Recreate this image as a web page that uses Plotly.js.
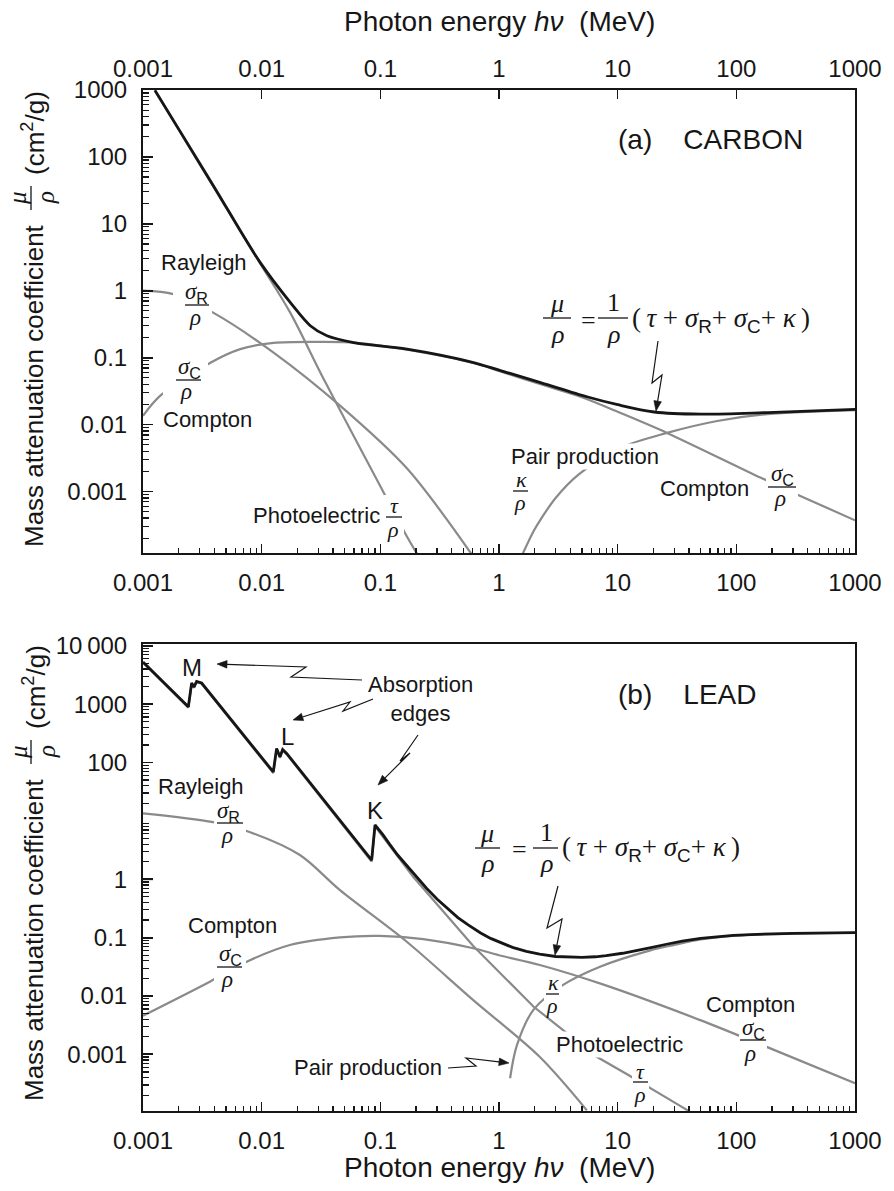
<!DOCTYPE html>
<html><head><meta charset="utf-8">
<script src="https://cdn.plot.ly/plotly-3.0.1.min.js"></script>
<style>html,body{margin:0;padding:0;background:#fff}#chart{width:894px;height:1191px}</style>
</head><body><div id="chart"></div>
<script>
// ---------------- DATA ----------------
// x ticks (photon energy, MeV)
const energyTicks = [0.001, 0.01, 0.1, 1, 10, 100, 1000];
const energyTickText = ['0.001', '0.01', '0.1', '1', '10', '100', '1000'];
// y ticks panel (a)
const carbonYTicks = [0.001, 0.01, 0.1, 1, 10, 100, 1000];
const carbonYTickText = ['0.001', '0.01', '0.1', '1', '10', '100', '1000'];
// y ticks panel (b)  (the reference prints no label at 10)
const leadYTicks = [0.001, 0.01, 0.1, 1, 100, 1000, 10000];
const leadYTickText = ['0.001', '0.01', '0.1', '1', '100', '1000', '10\u2009000'];

// Panel (a) CARBON
const carbonTotalE = [0.00126, 0.002, 0.004, 0.0097, 0.0174, 0.0257, 0.0355, 0.0596, 0.168, 0.61, 1.03, 2.24, 5.5, 10, 20.3, 50, 183, 1000];
const carbonTotalV = [990, 260, 35, 2.65, 0.67, 0.30, 0.212, 0.168, 0.134, 0.0845, 0.064, 0.0424, 0.026, 0.0198, 0.0154, 0.0143, 0.0151, 0.0169];
const carbonPhotoE = [0.00126, 0.0097, 0.0174, 0.0333, 0.1, 0.168, 0.215];
const carbonPhotoV = [980, 2.55, 0.47, 0.048, 0.0012, 0.00021, 0.0001];
const carbonRayleighE = [0.001, 0.0018, 0.0039, 0.0126, 0.046, 0.168, 0.61];
const carbonRayleighV = [1.0, 0.89, 0.47, 0.119, 0.019, 0.0022, 0.000105];
const carbonComptonE = [0.001, 0.0014, 0.0037, 0.0066, 0.0126, 0.0333, 0.0635, 0.168, 0.61, 1.03, 2.24, 5.2, 10, 26, 161, 350, 1000];
const carbonComptonV = [0.0135, 0.027, 0.084, 0.134, 0.166, 0.172, 0.166, 0.131, 0.083, 0.062, 0.040, 0.025, 0.0155, 0.0075, 0.0016, 0.00085, 0.00037];
const carbonPairE = [1.52, 1.97, 2.24, 3.0, 4.7, 10.6, 26, 69, 183, 1000];
const carbonPairV = [0.0001, 0.00026, 0.00038, 0.0008, 0.0018, 0.0045, 0.0075, 0.0113, 0.0143, 0.0164];

// Panel (b) LEAD
const leadTotalE = [0.001, 0.00241, 0.00257, 0.00269, 0.00283, 0.00312, 0.01253, 0.01336, 0.01426, 0.01503, 0.01625, 0.0845, 0.0902,
  0.105, 0.12, 0.14, 0.16, 0.2, 0.245, 0.3, 0.37, 0.45, 0.55, 0.7, 0.85, 1.0, 1.3, 1.7, 2.2, 3.0, 4.0, 5.0, 6.5, 8.0, 11, 15.4, 20, 25.8, 35, 50, 70, 94, 150, 300, 1000];
const leadTotalV = [5250, 898, 2300, 1970, 2450, 2300, 69, 174, 125, 167, 143, 2.13, 8.5,
  5.8, 3.95, 2.6, 1.9, 1.1, 0.70, 0.46, 0.31, 0.22, 0.165, 0.12, 0.097, 0.084, 0.068, 0.058, 0.052, 0.0475, 0.046, 0.046, 0.047, 0.049, 0.054, 0.061, 0.069, 0.077, 0.087, 0.097, 0.104, 0.109, 0.114, 0.118, 0.1216];
const leadPhotoE = [0.001, 0.00241, 0.00257, 0.00269, 0.00283, 0.00312, 0.01253, 0.01336, 0.01426, 0.01503, 0.01625, 0.0845, 0.0902, 0.12, 0.189, 0.607, 1.95, 3.47, 6.6, 11.9, 20, 31, 42];
const leadPhotoV = [5100, 870, 2230, 1910, 2380, 2230, 66, 168, 120, 161, 138, 2.0, 8.1, 3.7, 1.1, 0.072, 0.0066, 0.0026, 0.00092, 0.00046, 0.00025, 0.000145, 0.0001];
const leadRayleighE = [0.001, 0.0039, 0.008, 0.021, 0.0457, 0.167, 0.607, 2.21, 5.5];
const leadRayleighV = [13.5, 9.5, 6.4, 2.6, 0.65, 0.085, 0.0085, 0.0009, 0.00011];
const leadComptonE = [0.001, 0.00366, 0.00748, 0.0173, 0.0457, 0.099, 0.23, 0.607, 1.0, 2.21, 7.5, 49, 191, 1000];
const leadComptonV = [0.0046, 0.0176, 0.0387, 0.0748, 0.101, 0.107, 0.094, 0.0657, 0.050, 0.034, 0.0158, 0.0039, 0.00128, 0.00032];
const leadPairE = [1.24, 1.41, 1.95, 3.47, 7.1, 18.6, 30, 50, 100, 300, 1000];
const leadPairV = [0.00039, 0.0014, 0.0058, 0.0155, 0.0318, 0.060, 0.075, 0.093, 0.108, 0.117, 0.1213];

// ---------------- LAYOUT GEOMETRY ----------------
const W = 894, H = 1191;
const PX0 = 143, PX1 = 855, AY0 = 90, AY1 = 553, BY0 = 644, BY1 = 1111;
const INK = '#161616', GRAY = '#8a8a8a';
const SANS = '"Liberation Sans", Arial, sans-serif';
const SERIF = '"Liberation Serif", "Times New Roman", serif';
const P = x => x / W, Q = y => 1 - y / H;

function minorVals(lo, hi) {
  const out = [];
  for (let k = lo; k < hi; k++) for (let m = 2; m <= 9; m++) out.push(m * Math.pow(10, k));
  return out;
}

function curve(E, V, xa, ya, color, width, shape) {
  return {type: 'scatter', mode: 'lines', x: E, y: V, xaxis: xa, yaxis: ya,
    line: {color: color, width: width, shape: shape, smoothing: 0.9},
    hoverinfo: 'skip', showlegend: false};
}

const traces = [
  curve(carbonRayleighE, carbonRayleighV, 'x', 'y', GRAY, 2.2, 'spline'),
  curve(carbonComptonE, carbonComptonV, 'x', 'y', GRAY, 2.2, 'spline'),
  curve(carbonPhotoE, carbonPhotoV, 'x', 'y', GRAY, 2.2, 'spline'),
  curve(carbonPairE, carbonPairV, 'x', 'y', GRAY, 2.2, 'spline'),
  curve(carbonTotalE, carbonTotalV, 'x', 'y', INK, 2.8, 'spline'),
  {type: 'scatter', mode: 'lines', x: [], y: [], xaxis: 'x2', yaxis: 'y', showlegend: false, hoverinfo: 'skip'},
  curve(leadRayleighE, leadRayleighV, 'x3', 'y2', GRAY, 2.2, 'spline'),
  curve(leadComptonE, leadComptonV, 'x3', 'y2', GRAY, 2.2, 'spline'),
  curve(leadPhotoE, leadPhotoV, 'x3', 'y2', GRAY, 2.2, 'linear'),
  curve(leadPairE, leadPairV, 'x3', 'y2', GRAY, 2.2, 'spline'),
  curve(leadTotalE, leadTotalV, 'x3', 'y2', INK, 2.8, 'linear')
];

const tickFont = {family: SANS, size: 24, color: INK};
function xAxis(anchor, top) {
  const a = {domain: [P(PX0), P(PX1)], anchor: anchor, type: 'log', range: [-3, 3],
    showgrid: false, zeroline: false, showline: true, linecolor: INK, linewidth: 2,
    ticks: 'inside', ticklen: 9, tickwidth: 1.6, tickcolor: INK,
    tickmode: 'array', tickvals: energyTicks, ticktext: energyTickText,
    showticklabels: true, tickfont: tickFont, ticklabelstandoff: 7, fixedrange: true};
  if (top) { a.side = 'top'; a.overlaying = 'x'; a.showline = false; }
  else { a.mirror = true; a.minor = {ticks: 'inside', ticklen: 5, tickwidth: 1.3, tickcolor: INK, tickmode: 'array', tickvals: minorVals(-3, 3)}; }
  return a;
}
function yAxis(anchor, dom, range, tv, tt, lo, hi) {
  return {domain: dom, anchor: anchor, type: 'log', range: range,
    showgrid: false, zeroline: false, showline: true, mirror: true, linecolor: INK, linewidth: 2,
    ticks: 'inside', ticklen: 10, tickwidth: 1.8, tickcolor: INK,
    tickmode: 'array', tickvals: tv, ticktext: tt, tickfont: tickFont, ticklabelstandoff: 9,
    minor: {ticks: 'inside', ticklen: 6, tickwidth: 1.2, tickcolor: INK, tickmode: 'array', tickvals: minorVals(lo, hi)},
    fixedrange: true};
}

// ---------------- ANNOTATIONS & SHAPES ----------------
const ann = [], gaps = [], shp = [];
function txt(x, y, t, o) {
  const base = {xref: 'paper', yref: 'paper', x: P(x), y: Q(y), text: t, showarrow: false,
    xanchor: 'center', yanchor: 'middle', font: {family: SANS, size: 22, color: INK}, borderpad: 0};
  ann.push(Object.assign(base, o || {}));
}
function gtxt(x, y, t, size, o) { txt(x, y, t, Object.assign({font: {family: SERIF, size: size || 23, color: INK}}, o || {})); }
function gap(x0, y0, x1, y1) {
  gaps.push({type: 'rect', xref: 'paper', yref: 'paper', x0: P(x0), x1: P(x1), y0: Q(y1), y1: Q(y0),
    fillcolor: '#ffffff', line: {width: 0}, layer: 'above'});
}
function seg(x0, y0, x1, y1, w) {
  shp.push({type: 'line', xref: 'paper', yref: 'paper', x0: P(x0), x1: P(x1), y0: Q(y0), y1: Q(y1),
    line: {color: INK, width: w || 1.3}, layer: 'above'});
}
function frac(xn, yn, num, xd, yd, den, bx0, bx1, by, size) {
  gtxt(xn, yn, num, size); gtxt(xd, yd, den, size); seg(bx0, by, bx1, by);
}
function zig(pts) {
  // pts: pixel points; the last one is the arrow tip
  const tail = pts[pts.length - 2], tip = pts[pts.length - 1];
  const dx = tip[0] - tail[0], dy = tip[1] - tail[1], L = Math.hypot(dx, dy);
  const ux = dx / L, uy = dy / L, hl = 10, hw = 3.8;
  const bx = tip[0] - ux * hl, by = tip[1] - uy * hl;
  const body = pts.slice(0, -1).concat([[bx, by]]);
  const path = body.map((p, i) => (i ? 'L' : 'M') + P(p[0]).toFixed(5) + ',' + Q(p[1]).toFixed(5)).join(' ');
  shp.push({type: 'path', xref: 'paper', yref: 'paper', path: path, line: {color: INK, width: 1.2}, layer: 'above'});
  const h = [[tip[0], tip[1]], [bx - uy * hw, by + ux * hw], [bx + uy * hw, by - ux * hw]];
  const hp = h.map((p, i) => (i ? 'L' : 'M') + P(p[0]).toFixed(5) + ',' + Q(p[1]).toFixed(5)).join(' ') + ' Z';
  shp.push({type: 'path', xref: 'paper', yref: 'paper', path: hp, fillcolor: INK, line: {color: INK, width: 0.6}, layer: 'above'});
}
const sub = s => '<sub><span style="font-family:\'Liberation Sans\'">' + s + '</span></sub>';
const SIG_R = '<i>σ</i>' + sub('R'), SIG_C = '<i>σ</i>' + sub('C');
const RHO = '<i>ρ</i>';
const SUM = '(\u2009<i>τ</i> + <i>σ</i>' + sub('R') + '+ <i>σ</i>' + sub('C') + '+ <i>κ</i>\u2009)';

// --- axis titles ---
function yTitle(top) {
  txt(34, top + 296, 'Mass attenuation coefficient', {textangle: -90, font: {family: SANS, size: 26, color: INK}});
  gtxt(18, top + 108, '<i>μ</i>', 25, {textangle: -90});
  gtxt(46, top + 108, '<i>ρ</i>', 25, {textangle: -90});
  seg(31, top + 96, 31, top + 120);
  txt(34, top + 43, '(cm<sup>2</sup>/g)', {textangle: -90, font: {family: SANS, size: 26, color: INK}});
}
yTitle(AY0); yTitle(BY0);
const XT = 'Photon energy <i>hν</i>\u00a0 (MeV)';
txt((PX0 + PX1) / 2, 22, XT, {font: {family: SANS, size: 28, color: INK}});
txt((PX0 + PX1) / 2, 1167, XT, {font: {family: SANS, size: 28, color: INK}});

// --- panel (a) ---
txt(617, 140, '(a)\u00a0\u00a0\u00a0 CARBON', {xanchor: 'left', font: {family: SANS, size: 28, color: INK}});
txt(160, 262, 'Rayleigh', {xanchor: 'left'});
gap(173, 282, 212, 328);
frac(196, 293, SIG_R, 195, 318, RHO, 185, 209, 305);
txt(162, 420, 'Compton', {xanchor: 'left'});
gap(163, 357, 208, 402);
frac(189, 368, SIG_C, 186, 392, RHO, 176, 201, 380);
txt(252, 515, 'Photoelectric', {xanchor: 'left'});
gap(384, 495, 404, 534);
frac(394, 505, '<i>τ</i>', 393, 529, RHO, 386, 402, 517, 22);
// formula (a)
frac(557, 304, '<i>μ</i>', 557, 334, RHO, 543, 571, 318, 26);
gtxt(588, 320, '=', 26);
frac(613, 303, '1', 613, 334, RHO, 598, 628, 318, 26);
gtxt(631, 320, SUM, 27, {xanchor: 'left'});
zig([[658, 341], [652, 383], [662, 375], [656, 411]]);
txt(510, 456, 'Pair production', {xanchor: 'left', bgcolor: '#ffffff'});
frac(521, 479, '<i>κ</i>', 520, 503, RHO, 513, 528, 491, 22);
txt(659, 489, 'Compton', {xanchor: 'left'});
gap(766, 466, 798, 506);
frac(782, 475, SIG_C, 780, 498, RHO, 768, 796, 487);

// --- panel (b) ---
// major tick at 10 (no label in the reference)
shp.push({type: 'line', xref: 'x3 domain', yref: 'y2', x0: 0, x1: 10 / (PX1 - PX0), y0: 1, y1: 1, line: {color: INK, width: 1.8}, layer: 'above'});
txt(617, 694, '(b)\u00a0\u00a0\u00a0 LEAD', {xanchor: 'left', font: {family: SANS, size: 28, color: INK}});
txt(192, 667, 'M', {font: {family: SANS, size: 24, color: INK}});
txt(287, 736, 'L', {font: {family: SANS, size: 24, color: INK}});
txt(375, 810, 'K', {font: {family: SANS, size: 24, color: INK}});
txt(420, 699, 'Absorption<br>edges');
zig([[362, 680], [291, 677], [306, 667], [217, 664]]);
zig([[373, 699], [343, 711], [350, 702], [293, 720]]);
zig([[418, 735], [400, 761], [410, 753], [378, 785]]);
txt(157, 786, 'Rayleigh', {xanchor: 'left'});
gap(214, 799, 246, 847);
frac(229, 812, SIG_R, 227, 835, RHO, 217, 243, 823);
txt(187, 925, 'Compton', {xanchor: 'left'});
gap(214, 943, 246, 992);
frac(230, 955, SIG_C, 227, 979, RHO, 217, 242, 967);
// formula (b)
frac(487, 833, '<i>μ</i>', 487, 863, RHO, 475, 500, 848, 26);
gtxt(519, 849, '=', 26);
frac(546, 832, '1', 546, 863, RHO, 533, 558, 848, 26);
gtxt(561, 849, SUM, 27, {xanchor: 'left'});
zig([[558, 886], [547, 928], [562, 919], [555, 955]]);
gap(544, 974, 562, 1011);
frac(553, 982, '<i>κ</i>', 552, 1006, RHO, 546, 559, 994, 22);
txt(555, 1044, 'Photoelectric', {xanchor: 'left', bgcolor: '#ffffff'});
gap(632, 1060, 649, 1102);
frac(640, 1071, '<i>τ</i>', 640, 1094, RHO, 633, 648, 1082, 22);
txt(705, 1004, 'Compton', {xanchor: 'left'});
gap(739, 1016, 767, 1064);
frac(753, 1029, SIG_C, 750, 1053, RHO, 740, 766, 1040);
txt(293, 1067, 'Pair production', {xanchor: 'left'});
zig([[448, 1068], [476, 1066], [466, 1058], [509, 1063]]);

const layout = {
  width: W, height: H, margin: {l: 0, r: 0, t: 0, b: 0},
  paper_bgcolor: '#ffffff', plot_bgcolor: '#ffffff', showlegend: false,
  font: {family: SANS, color: INK},
  xaxis: xAxis('y', false),
  xaxis2: xAxis('y', true),
  yaxis: yAxis('x', [Q(AY1), Q(AY0)], [-3.92, 3.0], carbonYTicks, carbonYTickText, -4, 3),
  xaxis3: xAxis('y2', false),
  yaxis2: yAxis('x3', [Q(BY1), Q(BY0)], [-3.97, 4.03], leadYTicks, leadYTickText, -4, 4),
  shapes: gaps.concat(shp),
  annotations: ann
};
layout.xaxis2.domain = layout.xaxis.domain;

Plotly.newPlot('chart', traces, layout, {staticPlot: true, displayModeBar: false});
</script>
</body></html>
